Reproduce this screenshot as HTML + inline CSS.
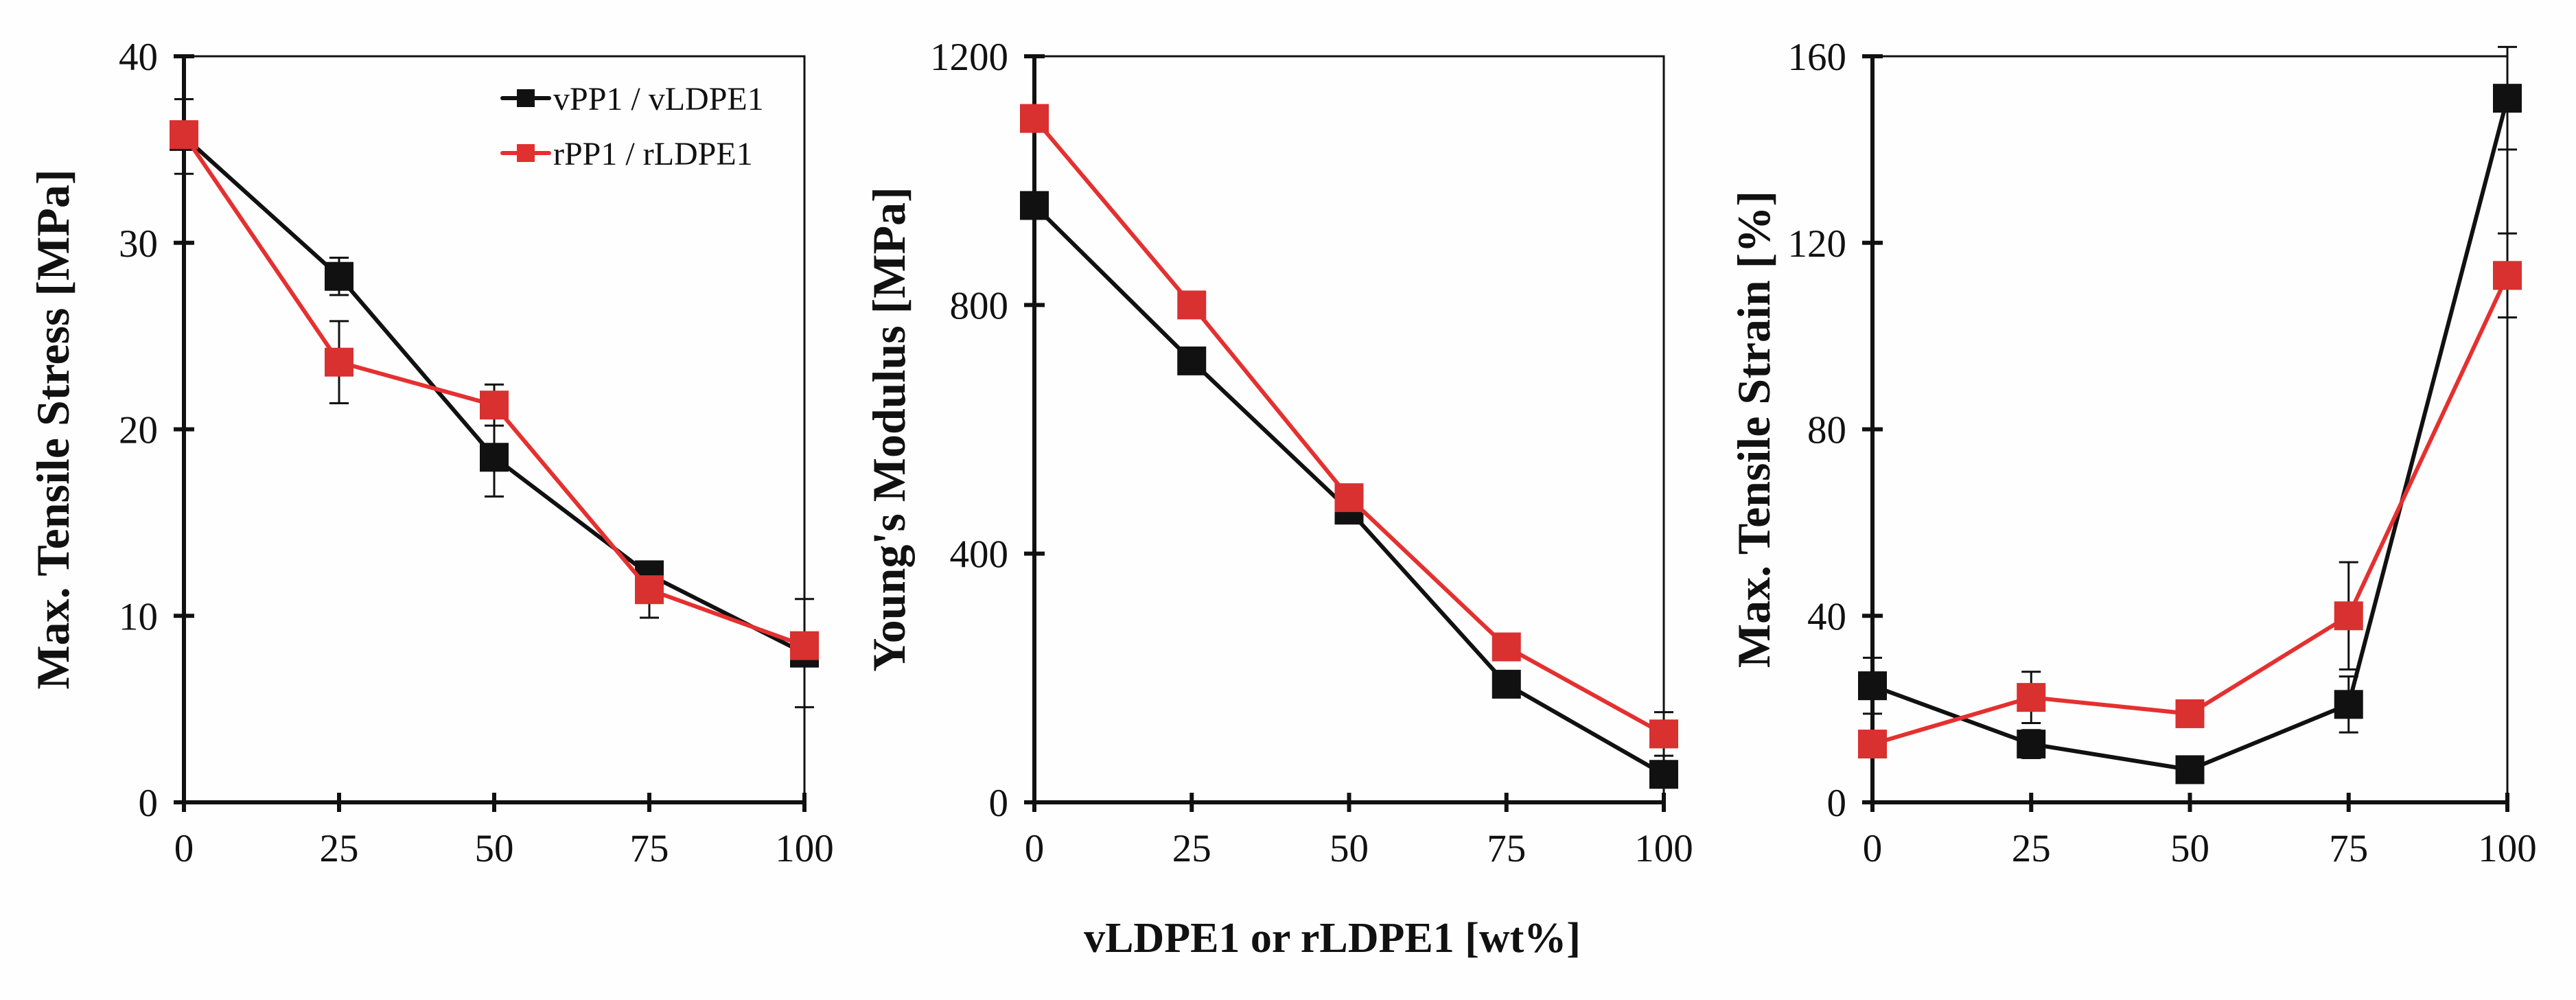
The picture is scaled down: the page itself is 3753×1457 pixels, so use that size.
<!DOCTYPE html>
<html><head><meta charset="utf-8"><style>
html,body{margin:0;padding:0;background:#fefefe;}
svg{display:block;font-family:"Liberation Serif",serif;}
</style></head><body>
<svg id="chart" width="3753" height="1457" viewBox="0 0 3753 1457" xmlns="http://www.w3.org/2000/svg">
<rect width="3753" height="1457" fill="#fefefe"/>
<g id="legend">
  <g>
    <line x1="732" y1="143" x2="800" y2="143" stroke="#111" stroke-width="6" stroke-linecap="round"/>
    <rect x="753" y="130" width="26" height="26" fill="#111"/>
    <text x="806" y="160" font-size="48" fill="#111">vPP1 / vLDPE1</text>
  </g>
  <g>
    <line x1="732" y1="223" x2="800" y2="223" stroke="#e53030" stroke-width="6" stroke-linecap="round"/>
    <rect x="753" y="210" width="26" height="26" fill="#e03030"/>
    <text x="806" y="240" font-size="48" fill="#111">rPP1 / rLDPE1</text>
  </g>
</g>
<text x="1941" y="1387" font-size="62" font-weight="bold" text-anchor="middle" fill="#111">vLDPE1 or rLDPE1 [wt%]</text>
</svg>
<script>
const xCats = [0, 25, 50, 75, 100];
const xTickLabels = ["0", "25", "50", "75", "100"];

const p1Ticks = [0, 10, 20, 30, 40];
const p1Black = [35.7, 28.2, 18.5, 12.2, 8.0];
const p1BlackErr = [2.0, 1.0, 2.1, 0.6, 2.9];
const p1Red = [35.8, 23.6, 21.3, 11.4, 8.4];
const p1RedErr = [0.4, 2.2, 1.1, 1.5, 0.4];

const p2Ticks = [0, 400, 800, 1200];
const p2Black = [960, 710, 470, 190, 45];
const p2BlackErr = [10, 10, 10, 10, 15];
const p2Red = [1100, 800, 490, 250, 110];
const p2RedErr = [10, 10, 10, 10, 35];

const p3Ticks = [0, 40, 80, 120, 160];
const p3Black = [25, 12.5, 7, 21, 151];
const p3BlackErr = [6, 3, 1, 6, 11];
const p3Red = [12.5, 22.5, 19, 40, 113];
const p3RedErr = [1, 5.5, 2.5, 11.5, 9];

const NS = "http://www.w3.org/2000/svg";
const svg = document.getElementById("chart");
function mk(tag, attrs, parent){
  const e = document.createElementNS(NS, tag);
  for (const k in attrs) e.setAttribute(k, attrs[k]);
  (parent||svg).appendChild(e);
  return e;
}
function panel(id, x0, x1, yMax, ticks, title, titleX, series){
  const yTop = 82, yBot = 1169;
  const g = mk("g", {});
  
  
  const sx = v => x0 + (v - 0) / 100 * (x1 - x0);
  const sy = v => yBot - v / yMax * (yBot - yTop);
  const fr = mk("rect", {x:x0, y:yTop, width:x1-x0, height:yBot-yTop, fill:"none", stroke:"#111", "stroke-width":3}, g);
  
  
  const ya = mk("line", {x1:x0, y1:yTop, x2:x0, y2:yBot+3, stroke:"#111", "stroke-width":6}, g);
  
  
  const xa = mk("line", {x1:x0-15, y1:yBot, x2:x1, y2:yBot, stroke:"#111", "stroke-width":6}, g);
  
  
  ticks.forEach(t => {
    const y = sy(t);
    mk("line", {x1:x0-15, y1:y, x2:x0+15, y2:y, stroke:"#111", "stroke-width":6}, g);
    const tl = mk("text", {x:x0-38, y:y+20, "font-size":57, "text-anchor":"end", fill:"#111"}, g);
    tl.textContent = String(t);
    
    
  });
  xCats.forEach((c, i) => {
    const x = sx(c);
    mk("line", {x1:x, y1:yBot-14, x2:x, y2:yBot+14, stroke:"#111", "stroke-width":6}, g);
    const tl = mk("text", {x:x, y:1255, "font-size":57, "text-anchor":"middle", fill:"#111"}, g);
    tl.textContent = xTickLabels[i];
    
    
  });
  const cy = (yTop + yBot) / 2;
  const tt = mk("text", {x:titleX, y:cy, "font-size":68, "font-weight":"bold", "text-anchor":"middle", fill:"#111", transform:"rotate(-90 " + titleX + " " + cy + ")"}, g);
  tt.textContent = title;
  
  
  series.forEach(s => {
    const sg = mk("g", {}, g);
    
    
    s.vals.forEach((v, i) => {
      const x = sx(xCats[i]);
      const e = s.err[i];
      const eg = mk("g", {stroke:"#111", "stroke-width":3}, sg);
      
      
      mk("line", {x1:x, y1:sy(v+e), x2:x, y2:sy(v-e)}, eg);
      mk("line", {x1:x-14, y1:sy(v+e), x2:x+14, y2:sy(v+e)}, eg);
      mk("line", {x1:x-14, y1:sy(v-e), x2:x+14, y2:sy(v-e)}, eg);
    });
  });
  series.forEach(s => {
    const pts = s.vals.map((v, i) => sx(xCats[i]) + "," + sy(v)).join(" ");
    const pl = mk("polyline", {points:pts, fill:"none", stroke:s.line, "stroke-width":6, "stroke-linejoin":"round"}, g);
    
    
    s.vals.forEach((v, i) => {
      const r = mk("rect", {x:sx(xCats[i])-21, y:sy(v)-21, width:42, height:42, fill:s.fill}, g);
      
      
    });
  });
}
panel("panel-stress", 268, 1172, 40, p1Ticks, "Max. Tensile Stress [MPa]", 100, [
  {name:"vpp1", vals:p1Black, err:p1BlackErr, line:"#111", fill:"#111"},
  {name:"rpp1", vals:p1Red, err:p1RedErr, line:"#e53030", fill:"#d93030"}]);
panel("panel-modulus", 1507, 2424, 1200, p2Ticks, "Young's Modulus [MPa]", 1318, [
  {name:"vpp1", vals:p2Black, err:p2BlackErr, line:"#111", fill:"#111"},
  {name:"rpp1", vals:p2Red, err:p2RedErr, line:"#e53030", fill:"#d93030"}]);
panel("panel-strain", 2728, 3653, 160, p3Ticks, "Max. Tensile Strain [%]", 2578, [
  {name:"vpp1", vals:p3Black, err:p3BlackErr, line:"#111", fill:"#111"},
  {name:"rpp1", vals:p3Red, err:p3RedErr, line:"#e53030", fill:"#d93030"}]);
svg.appendChild(document.getElementById("legend"));
</script>
</body></html>
